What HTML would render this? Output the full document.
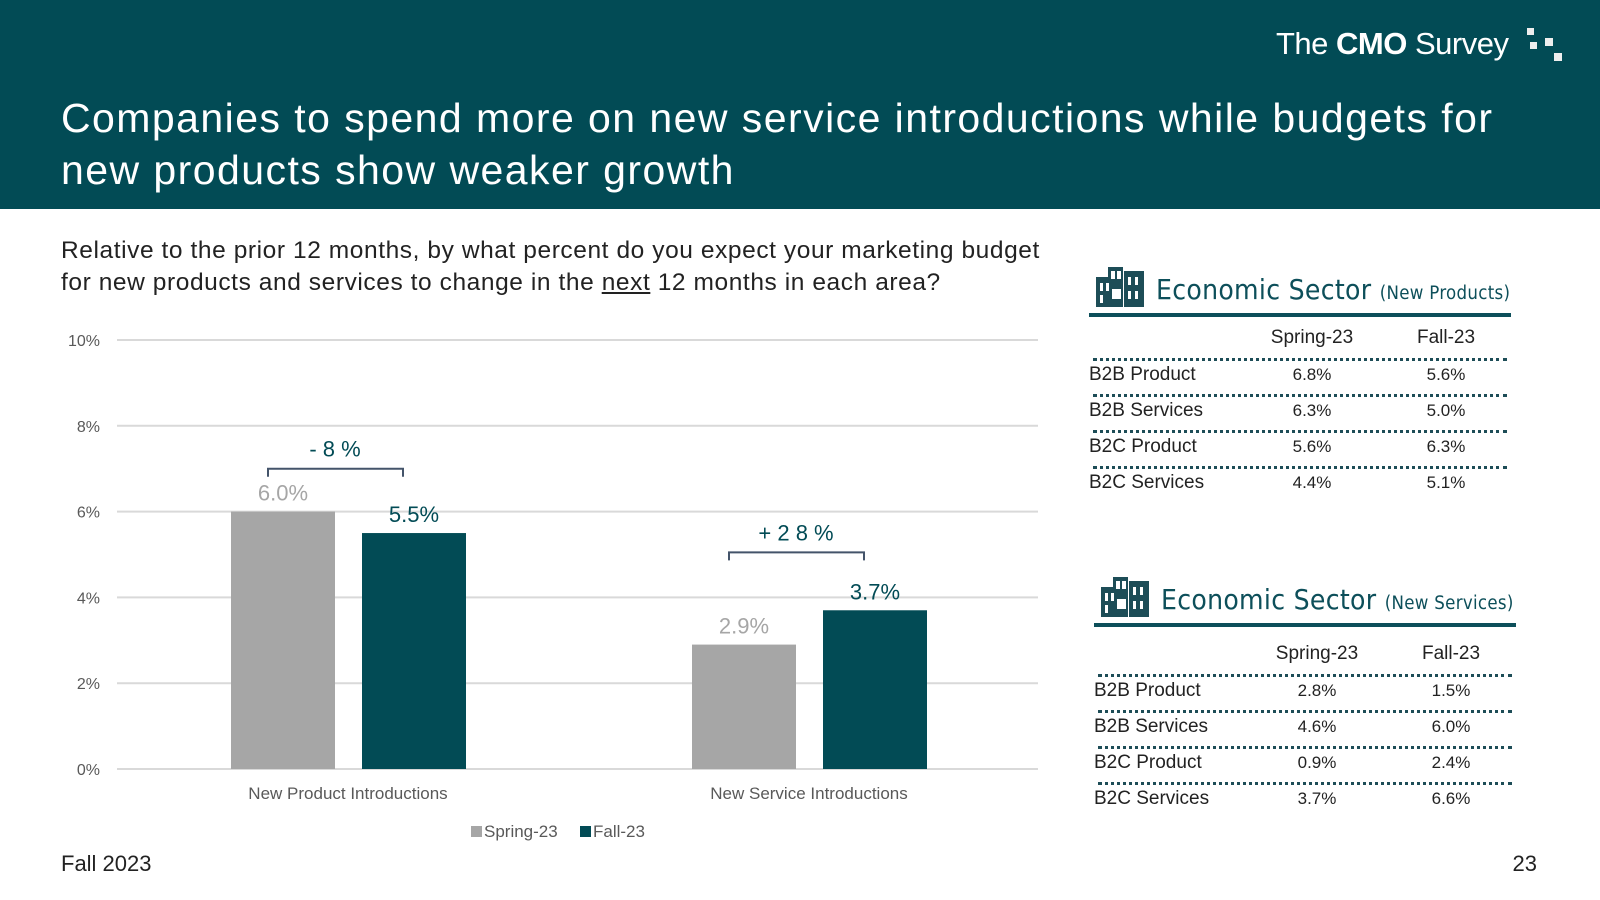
<!DOCTYPE html>
<html><head><meta charset="utf-8"><style>
body{margin:0;width:1600px;height:900px;position:relative;background:#fff;font-family:"Liberation Sans",sans-serif;overflow:hidden}
.a{position:absolute;white-space:nowrap}
</style></head><body>
<div class="a" style="left:0;top:0;width:1600px;height:209px;background:#024b55"></div>
<div class="a" style="left:1276px;top:26px;color:#fff;font-size:31px;letter-spacing:-0.5px"><span style="font-weight:300">The </span><b>CMO</b><span style="font-weight:300"> Survey</span></div>
<div class="a" style="left:1527px;top:28px;width:36px;height:36px">
<div class="a" style="left:0;top:0;width:7px;height:7px;background:#eee"></div>
<div class="a" style="left:18px;top:10px;width:8px;height:8px;background:#eee"></div>
<div class="a" style="left:3px;top:14px;width:7px;height:7px;background:#eee"></div>
<div class="a" style="left:27px;top:25px;width:8px;height:8px;background:#eee"></div></div>
<div class="a" style="left:61px;top:92px;color:#fff;font-size:41px;line-height:52px;letter-spacing:1.45px">Companies to spend more on new service introductions while budgets for<br>new products show weaker growth</div>
<div class="a" style="left:61px;top:235px;color:#222;font-size:24.5px;line-height:32px;letter-spacing:0.58px">Relative to the prior 12 months, by what percent do you expect your marketing budget<br>for new products and services to change in the <u>next</u> 12 months in each area?</div>

<svg class="a" style="left:0;top:0" width="1060" height="860" id="chart"></svg>

<div class="a" style="left:61px;top:851px;font-size:22px;color:#222">Fall 2023</div>
<div class="a" style="right:63px;top:851px;font-size:22px;color:#222">23</div>

<div id="t1"></div><div id="t2"></div>

<script>
const categories=["New Product Introductions","New Service Introductions"];
const spring=[6.0,2.9];
const fall=[5.5,3.7];
const changes=["- 8 %","+ 2 8 %"];
const bracketLevels=[7.0,5.05];
const yTicks=[0,2,4,6,8,10];
const NS="http://www.w3.org/2000/svg";
const svg=document.getElementById('chart');
const y=v=>769-v*42.9;
const cx=i=>348+i*461;
function mk(t,a,txt){const e=document.createElementNS(NS,t);for(const k in a)e.setAttribute(k,a[k]);if(txt!=null)e.textContent=txt;svg.appendChild(e);return e;}
yTicks.forEach(t=>{
 const l=mk('line',{x1:117,x2:1038,y1:y(t),y2:y(t),stroke:'#d9d9d9','stroke-width':2});
 
 
 const tx=mk('text',{x:100,y:y(t)+6,'text-anchor':'end','font-size':16,fill:'#595959'},t+'%');
 
 
});
categories.forEach((c,i)=>{
 const c0=cx(i);
 const b1=mk('rect',{x:c0-117,y:y(spring[i]),width:104,height:y(0)-y(spring[i]),fill:'#a6a6a6'});
 
 
 const b2=mk('rect',{x:c0+14,y:y(fall[i]),width:104,height:y(0)-y(fall[i]),fill:'#024b55'});
 
 
 const l1=mk('text',{x:c0-65,y:y(spring[i])-11,'text-anchor':'middle','font-size':22,fill:'#a6a6a6'},spring[i].toFixed(1)+'%');
 
 
 const l2=mk('text',{x:c0+66,y:y(fall[i])-11,'text-anchor':'middle','font-size':22,fill:'#024b55'},fall[i].toFixed(1)+'%');
 
 
 const cl=mk('text',{x:c0,y:799,'text-anchor':'middle','font-size':17,fill:'#595959'},c);
 
 
 const top=y(bracketLevels[i]);
 const br=mk('path',{d:`M${c0-80} ${top+8}V${top}H${c0+55}V${top+8}`,fill:'none',stroke:'#44546a','stroke-width':2});
 
 
 const ct=mk('text',{x:c0-13,y:top-12,'text-anchor':'middle','font-size':22,fill:'#024b55'},changes[i]);
 
 
});
[['Spring-23','#a6a6a6',471],['Fall-23','#024b55',580]].forEach(([n,c,x])=>{
 const r=mk('rect',{x:x,y:826,width:11,height:11,fill:c});
 
 
 const t=mk('text',{x:x+13,y:837,'font-size':17,fill:'#595959'},n);
 
 
});

const rowNames=["B2B Product","B2B Services","B2C Product","B2C Services"];
const prodSpring=["6.8%","6.3%","5.6%","4.4%"];
const prodFall=["5.6%","5.0%","6.3%","5.1%"];
const servSpring=["2.8%","4.6%","0.9%","3.7%"];
const servFall=["1.5%","6.0%","2.4%","6.6%"];
function table(host,left,top,sub,sp,fa,name,rowOff,lineTop){
 let h=`<div class="a" style="left:${left}px;top:${top}px;width:422px;height:260px">
 <svg class="a" style="left:7px;top:0" width="50" height="42">
 <rect x="0" y="12" width="18" height="30" fill="#1d4d57"/><rect x="12" y="2" width="15" height="40" fill="#1d4d57"/><rect x="28" y="6" width="20" height="36" fill="#1d4d57"/>
 <g fill="#fff"><rect x="4" y="18" width="3" height="8"/><rect x="10" y="18" width="3" height="8"/><rect x="4" y="30" width="3" height="8"/><rect x="15" y="6" width="4" height="8"/><rect x="21" y="6" width="4" height="8"/><rect x="16" y="24" width="9" height="10"/><rect x="32" y="12" width="3" height="8"/><rect x="39" y="12" width="3" height="8"/><rect x="32" y="26" width="3" height="8"/><rect x="39" y="26" width="3" height="8"/></g></svg>
 <div class="a" style="left:67px;top:8px;font-family:'DejaVu Sans Condensed','DejaVu Sans',sans-serif;font-size:28px;color:#0d4f5a;letter-spacing:0.3px">Economic Sector <span style="font-size:18.5px">(${sub})</span></div>
 <div class="a" style="left:0;top:${lineTop}px;width:422px;height:4px;background:#0d4f5a"></div>
 <div class="a" style="left:223px;top:${62+rowOff}px;width:0"><span class="a" style="transform:translateX(-50%);font-size:19px;color:#222">Spring-23</span></div>
 <div class="a" style="left:357px;top:${62+rowOff}px;width:0"><span class="a" style="transform:translateX(-50%);font-size:19px;color:#222">Fall-23</span></div>`;
 rowNames.forEach((r,i)=>{
  const ty=93+rowOff+i*36;
  h+=`<div class="a" style="left:4px;top:${ty}px;width:414px;border-top:3px dotted #1d4d57"></div>
  <div class="a" style="left:0;top:${ty+6}px;font-size:19px;color:#222">${r}</div>
  <div class="a" style="left:223px;top:${ty+7}px;width:0"><span class="a" style="transform:translateX(-50%);font-size:17px;color:#222">${sp[i]}</span></div>
  <div class="a" style="left:357px;top:${ty+7}px;width:0"><span class="a" style="transform:translateX(-50%);font-size:17px;color:#222">${fa[i]}</span></div>`;
 });
 h+='</div>';
 document.getElementById(host).outerHTML=h;
}
table('t1',1089,265,'New Products',prodSpring,prodFall,'products-table',0,48);
table('t2',1094,575,'New Services',servSpring,servFall,'services-table',6,48);
</script>
</body></html>
